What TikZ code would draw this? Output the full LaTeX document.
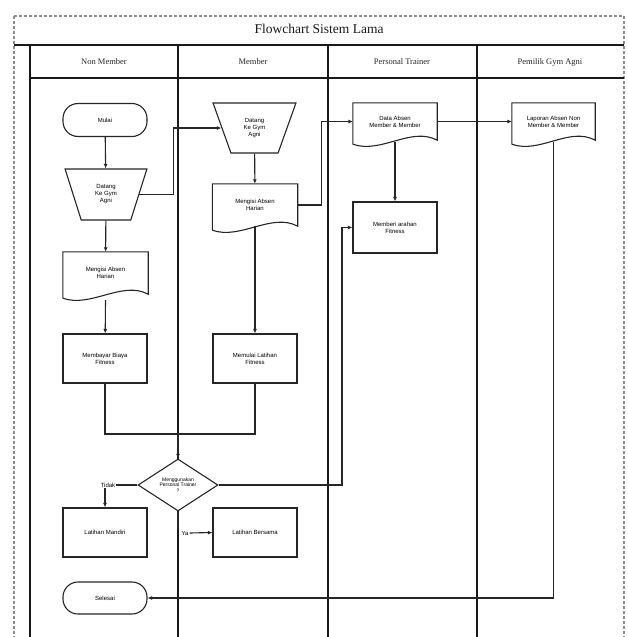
\documentclass[tikz,border=0pt]{standalone}
\usepackage{fontspec}
\setmainfont{Liberation Serif}
\newfontfamily\nodefont{Liberation Sans}
\usetikzlibrary{shapes.geometric,arrows.meta,calc}
\tikzset{
  ln/.style={draw=black!85, line width=1.1pt},
  arr/.style={ln, -{Latex[length=4.5pt,width=4pt]}},
  box/.style={ln, fill=white, rectangle, minimum width=84pt, minimum height=49pt, align=center, font=\nodefont\fontsize{6}{7}\selectfont, inner sep=1pt},
  term/.style={box, rounded corners=15pt, minimum height=33pt},
  manin/.style={ln, fill=white, trapezium, shape border rotate=180, trapezium stretches=true, minimum width=83pt, minimum height=50pt, align=center, font=\nodefont\fontsize{6}{7}\selectfont, inner sep=0pt},
  docu/.style={rectangle, minimum width=85pt, align=center, font=\nodefont\fontsize{6}{7}\selectfont, inner sep=1pt},
  dec/.style={ln, fill=white, diamond, minimum width=80pt, minimum height=52pt, inner sep=0pt, align=center, font=\nodefont\fontsize{5}{5.8}\selectfont},
  lbl/.style={fill=white, inner sep=1pt, font=\nodefont\fontsize{6}{7}\selectfont},
  lane/.style={draw=black!90, line width=1.4pt},
  hdr/.style={font=\fontsize{8.5}{10}\selectfont, text=black!85}
}
\newcommand\docwave[1]{%
  \draw[ln] ($(#1.south west)+(0,4)$) -- (#1.north west) -- (#1.north east) -- (#1.south east)
    .. controls ($(#1.south east)+(-26,-14)$) and ($(#1.south west)+(28,14)$) .. ($(#1.south west)+(0,4)$);}
\begin{document}
\begin{tikzpicture}[x=1pt,y=-1pt]
\useasboundingbox (0,0) rectangle (627,637);
% frame
\draw[draw=black!45, line width=1.4pt, densely dashed] (14,16) rectangle (624,640);
\draw[lane] (14,45) -- (624,45);
\draw[lane] (30,78) -- (624,78);
\node[font=\fontsize{13.5}{15}\selectfont, text=black!90] (title) at (319,29) {Flowchart Sistem Lama};
\foreach \x in {30,178,328,477} {\draw[lane] (\x,45) -- (\x,640);}
\node[hdr] (h1) at (104,62) {Non Member};
\node[hdr] (h2) at (253,62) {Member};
\node[hdr] (h3) at (402,62) {Personal Trainer};
\node[hdr] (h4) at (550,62) {Pemilik Gym Agni};
% nodes
\node[term] (mulai) at (105,120) {Mulai};
\node[manin, trapezium left angle=70, trapezium right angle=70, minimum width=82pt, minimum height=51pt] (datang) at (106,194.5) {Datang\\Ke Gym\\Agni};
\node[docu, minimum height=42pt] (absen1) at (105.5,273) {Mengisi Absen\\Harian};
\docwave{absen1}
\node[box] (proses1) at (105,358.5) {Membayar Biaya\\Fitness};
\node[manin, trapezium left angle=67, trapezium right angle=67] (memin) at (254.5,128) {Datang\\Ke Gym\\Agni};
\node[docu, minimum height=42pt] (absen2) at (255,205) {Mengisi Absen\\Harian};
\docwave{absen2}
\node[box] (proses2) at (255,358.5) {Memulai Latihan\\Fitness};
\node[docu, minimum height=37pt, minimum width=84pt] (dabsen) at (395,121.5) {Data Absen\\Member \& Member};
\docwave{dabsen}
\node[docu, minimum height=37pt, minimum width=83pt] (lapor) at (553.5,121.5) {Laporan Absen Non\\Member \& Member};
\docwave{lapor}
\node[box, minimum height=51pt] (catat) at (395,227.5) {Memberi arahan\\Fitness};
\node[dec] (dia) at (178,485) {Menggunakan\\Personal Trainer\\?};
\node[lbl] (lblT) at (108,485) {Tidak};
\node[box] (lat1) at (105,532.5) {Latihan Mandiri};
\node[lbl] (lblY) at (185,533) {Ya};
\node[box] (lat2) at (255,532.5) {Latihan Bersama};
\node[term, minimum height=32pt] (selesai) at (105,598) {Selesai};
\coordinate (join) at (178,434);
% connectors
\draw[arr] (mulai) -- (datang);
\draw[arr] (datang) -- (absen1);
\draw[arr] ($(absen1.south)+(0,6)$) -- (proses1);
\draw[arr] (datang.east) -- ++(34,0) |- (memin.west);
\draw[arr] (memin) -- (absen2);
\draw[arr] (absen2.south) -- (proses2);
\draw[arr] (absen2.east) -- ++(24,0) |- (dabsen.west);
\draw[ln] (proses1.south) |- (join);
\draw[ln] (proses2.south) |- (join);
\draw[arr] (join) -- (dia.north);
\draw[ln] (dia.west) -- (lblT.east);
\draw[arr] (lblT.south -| lat1.north) -- (lat1.north);
\draw[ln] (dia.south) -- (dia.south |- lblY.north);
\draw[arr] (lblY.east) -- (lat2.west);
\draw[arr] (dia.east) -- (342,485) |- (catat.west);
\draw[arr] (dabsen.east) -- (lapor.west);
\draw[arr] ($(dabsen.south)+(0,2)$) -- (catat.north);
\draw[arr] ($(lapor.south)+(0,2)$) |- (selesai.east);
\end{tikzpicture}
\end{document}
